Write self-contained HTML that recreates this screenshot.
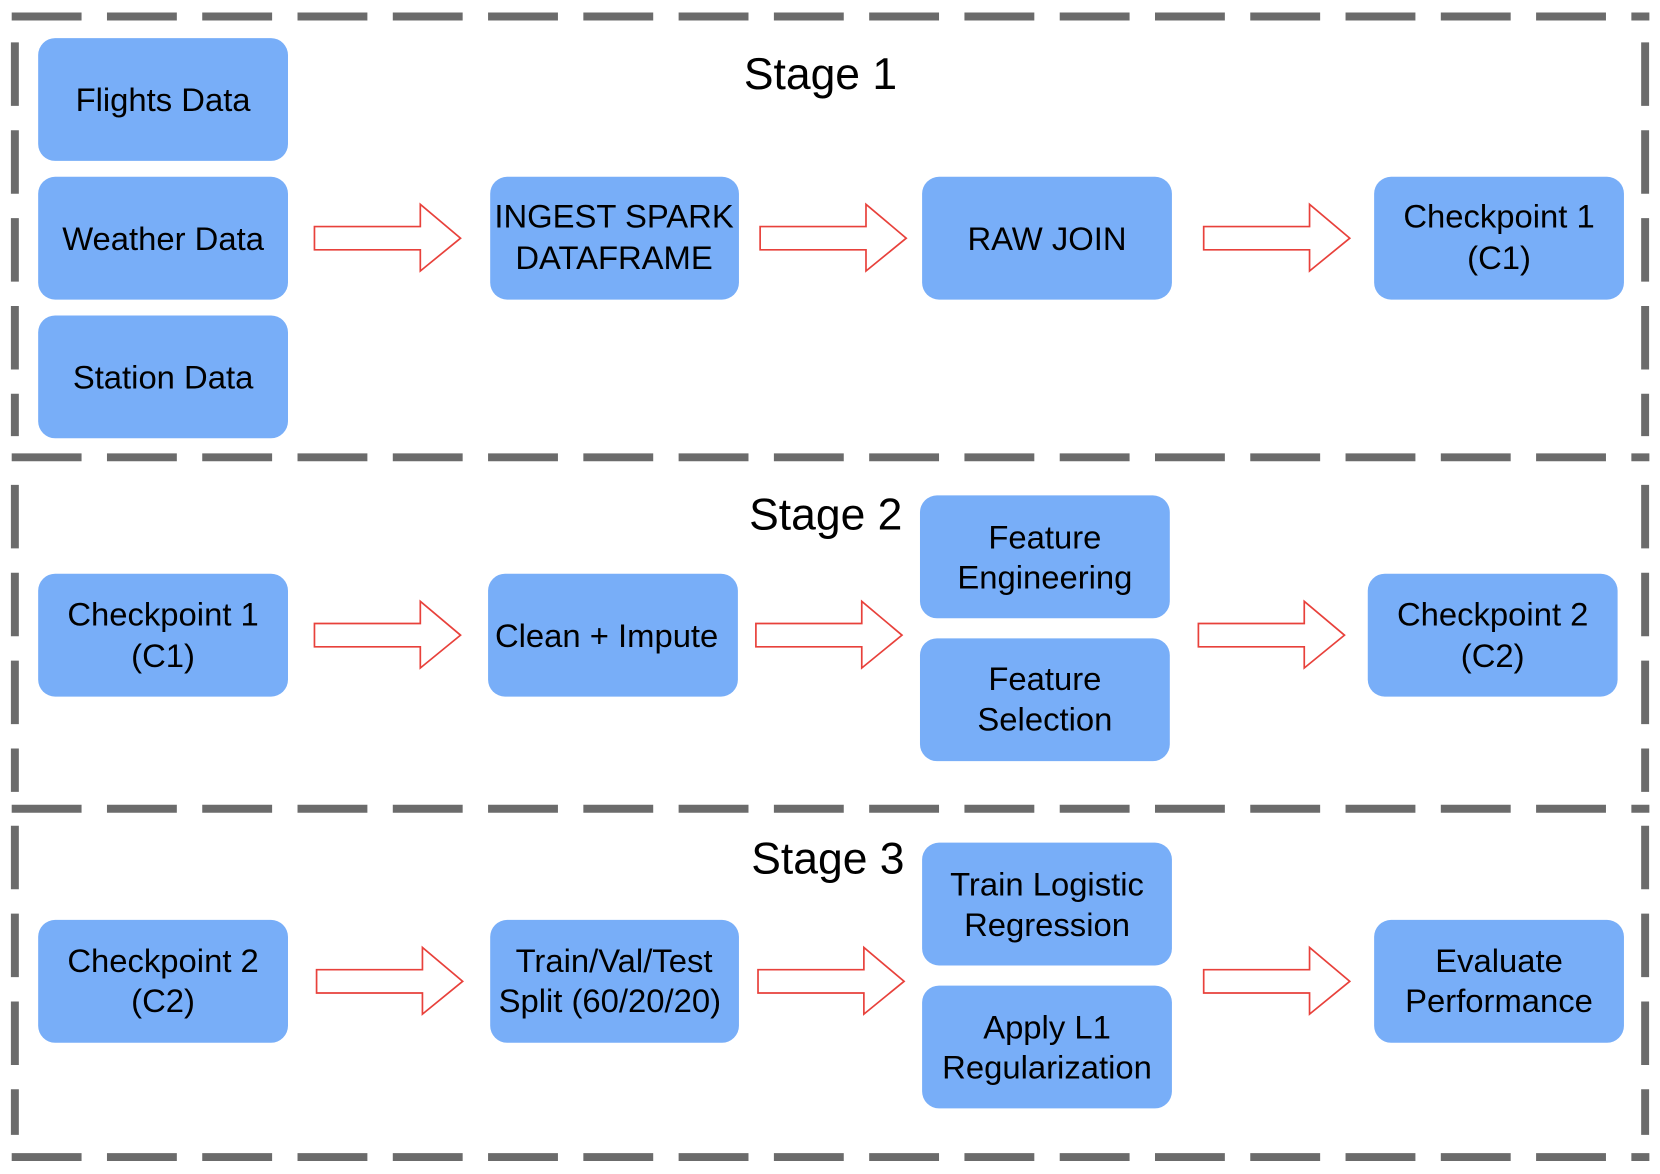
<!DOCTYPE html>
<html><head><style>html,body{margin:0;padding:0;background:#fff}svg{display:block}</style></head>
<body>
<svg width="1660" height="1174" viewBox="0 0 1568 1109" xmlns="http://www.w3.org/2000/svg" font-family="Liberation Sans, Arial, sans-serif">
<g stroke="#6b6b6b" stroke-width="7.5" fill="none" stroke-dasharray="66 24">
<line x1="11" y1="15.6" x2="1558" y2="15.6"/>
<line x1="11" y1="432" x2="1558" y2="432"/>
<line x1="11" y1="764" x2="1558" y2="764"/>
<line x1="11" y1="1093" x2="1558" y2="1093"/>
<line x1="14" y1="40" x2="14" y2="412" stroke-dasharray="60 23"/>
<line x1="1554" y1="40" x2="1554" y2="412" stroke-dasharray="60 23"/>
<line x1="14" y1="458" x2="14" y2="748" stroke-dasharray="60 23"/>
<line x1="1554" y1="458" x2="1554" y2="748" stroke-dasharray="60 23"/>
<line x1="14" y1="780" x2="14" y2="1072" stroke-dasharray="60 23"/>
<line x1="1554" y1="780" x2="1554" y2="1072" stroke-dasharray="60 23"/>
</g>
<g fill="#78aef8">
<rect x="36" y="36" width="236" height="116" rx="16"/>
<rect x="36" y="167" width="236" height="116" rx="16"/>
<rect x="36" y="298" width="236" height="116" rx="16"/>
<rect x="463" y="167" width="235" height="116" rx="16"/>
<rect x="871" y="167" width="236" height="116" rx="16"/>
<rect x="1298" y="167" width="236" height="116" rx="16"/>
<rect x="36" y="542" width="236" height="116" rx="16"/>
<rect x="461" y="542" width="236" height="116" rx="16"/>
<rect x="869" y="468" width="236" height="116" rx="16"/>
<rect x="869" y="603" width="236" height="116" rx="16"/>
<rect x="1292" y="542" width="236" height="116" rx="16"/>
<rect x="36" y="869" width="236" height="116" rx="16"/>
<rect x="463" y="869" width="235" height="116" rx="16"/>
<rect x="871" y="796" width="236" height="116" rx="16"/>
<rect x="871" y="931" width="236" height="116" rx="16"/>
<rect x="1298" y="869" width="236" height="116" rx="16"/>
</g>
<defs><polygon id="ar" points="0,-11 100,-11 100,-32 138,0 100,31 100,11 0,11" fill="#fff" stroke="#e8413b" stroke-width="1.6"/></defs>
<use href="#ar" x="297" y="225"/><use href="#ar" x="718" y="225"/><use href="#ar" x="1137" y="225"/>
<use href="#ar" x="297" y="600"/><use href="#ar" x="714" y="600"/><use href="#ar" x="1132" y="600"/>
<use href="#ar" x="299" y="927"/><use href="#ar" x="716" y="927"/><use href="#ar" x="1137" y="927"/>
<g font-size="42" text-anchor="middle" fill="#000">
<text x="775" y="84">Stage 1</text>
<text x="780" y="500">Stage 2</text>
<text x="782" y="825">Stage 3</text>
</g>
<g font-size="31" text-anchor="middle" fill="#000">
<text x="154" y="105">Flights Data</text>
<text x="154" y="236">Weather Data</text>
<text x="154" y="367">Station Data</text>
<text x="580" y="215">INGEST SPARK</text><text x="580" y="254">DATAFRAME</text>
<text x="989" y="236">RAW JOIN</text>
<text x="1416" y="215">Checkpoint 1</text><text x="1416" y="254">(C1)</text>
<text x="154" y="591">Checkpoint 1</text><text x="154" y="630">(C1)</text>
<text x="573" y="611">Clean + Impute</text>
<text x="987" y="518">Feature</text><text x="987" y="556">Engineering</text>
<text x="987" y="652">Feature</text><text x="987" y="690">Selection</text>
<text x="1410" y="591">Checkpoint 2</text><text x="1410" y="630">(C2)</text>
<text x="154" y="918">Checkpoint 2</text><text x="154" y="956">(C2)</text>
<text x="580" y="918">Train/Val/Test</text><text x="576" y="956">Split (60/20/20)</text>
<text x="989" y="846">Train Logistic</text><text x="989" y="884">Regression</text>
<text x="989" y="981">Apply L1</text><text x="989" y="1019">Regularization</text>
<text x="1416" y="918">Evaluate</text><text x="1416" y="956">Performance</text>
</g>
</svg>
</body></html>
